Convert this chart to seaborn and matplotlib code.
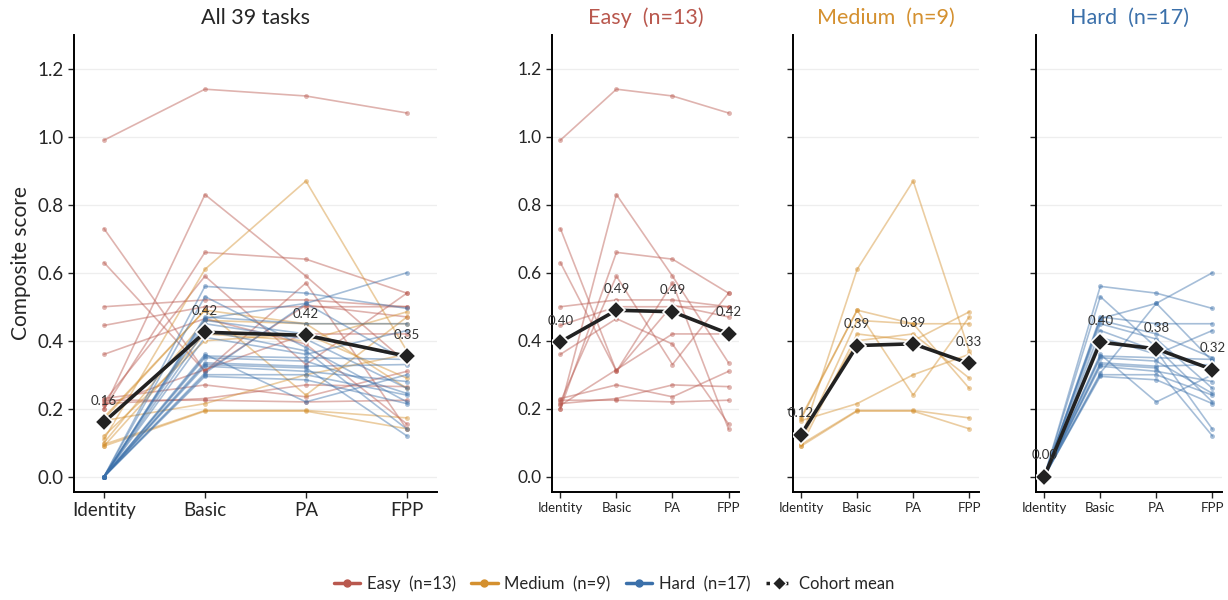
import numpy as np
import pandas as pd
import matplotlib
matplotlib.use("Agg")
import matplotlib.pyplot as plt
from matplotlib.lines import Line2D
import seaborn as sns

conditions = ["Identity", "Basic", "PA", "FPP"]
groups = ["Easy", "Medium", "Hard"]
colors = {"Easy": "#b9584e", "Medium": "#d4902f", "Hard": "#3b70aa"}

# per-task composite scores, one list per condition
easy_identity = [0.99, 0.73, 0.63, 0.50, 0.445, 0.36, 0.20, 0.20, 0.22, 0.23, 0.215, 0.225, 0.21]
easy_basic = [1.14, 0.31, 0.31, 0.52, 0.50, 0.465, 0.83, 0.66, 0.59, 0.27, 0.23, 0.225, 0.315]
easy_pa = [1.12, 0.57, 0.505, 0.52, 0.50, 0.39, 0.59, 0.64, 0.33, 0.235, 0.27, 0.22, 0.42]
easy_fpp = [1.07, 0.14, 0.47, 0.50, 0.50, 0.155, 0.335, 0.54, 0.54, 0.31, 0.265, 0.225, 0.42]

medium_identity = [0.11, 0.175, 0.17, 0.10, 0.09, 0.12, 0.165, 0.095, 0.09]
medium_basic = [0.61, 0.49, 0.49, 0.46, 0.42, 0.40, 0.215, 0.195, 0.193]
medium_pa = [0.87, 0.45, 0.24, 0.45, 0.40, 0.42, 0.30, 0.195, 0.193]
medium_fpp = [0.37, 0.45, 0.47, 0.26, 0.485, 0.29, 0.36, 0.173, 0.141]

hard_identity = [0.0] * 17
hard_basic = [0.56, 0.53, 0.47, 0.465, 0.46, 0.45, 0.43, 0.41, 0.36, 0.355, 0.35, 0.335, 0.33, 0.325, 0.305, 0.30, 0.295]
hard_pa = [0.54, 0.38, 0.45, 0.51, 0.42, 0.405, 0.37, 0.36, 0.22, 0.35, 0.34, 0.325, 0.32, 0.31, 0.51, 0.30, 0.285]
hard_fpp = [0.495, 0.22, 0.45, 0.60, 0.35, 0.26, 0.14, 0.43, 0.30, 0.345, 0.245, 0.33, 0.12, 0.28, 0.34, 0.24, 0.215]

scores = {
    "Easy": [easy_identity, easy_basic, easy_pa, easy_fpp],
    "Medium": [medium_identity, medium_basic, medium_pa, medium_fpp],
    "Hard": [hard_identity, hard_basic, hard_pa, hard_fpp],
}

rows = []
for g in groups:
    for ci, vals in enumerate(scores[g]):
        for ti, v in enumerate(vals):
            rows.append({"task": f"{g}{ti}", "group": g, "x": ci, "score": v})
df = pd.DataFrame(rows)
counts = {g: len(scores[g][0]) for g in groups}

sns.set_theme(style="ticks")
plt.rcParams["font.family"] = ["Lato", "DejaVu Sans"]

fig = plt.figure(figsize=(12.28, 6), dpi=100)
bottom, height = 0.18, 0.762
ax_all = fig.add_axes([0.060, bottom, 0.296, height])
ax_e = fig.add_axes([0.4495, bottom, 0.152, height])
ax_m = fig.add_axes([0.6455, bottom, 0.152, height])
ax_h = fig.add_axes([0.8435, bottom, 0.152, height])


def draw(ax, data, small):
    for g in groups:
        sub = data[data.group == g]
        if sub.empty:
            continue
        sns.lineplot(data=sub, x="x", y="score", units="task", estimator=None,
                     color=colors[g], alpha=0.45, lw=1.2, marker="o",
                     markersize=3.5, markeredgewidth=0, ax=ax, legend=False)
    means = data.groupby("x")["score"].mean().reset_index()
    sns.lineplot(data=means, x="x", y="score", color="#222222", lw=2.6,
                 marker="D", markersize=9, markeredgecolor="white",
                 markeredgewidth=1.2, ax=ax, legend=False, zorder=5)
    for _, r in means.iterrows():
        ax.text(r.x, r.score + 0.045, f"{r.score:.2f}", ha="center", va="bottom",
                fontsize=9.5, color="#333333", zorder=6)
    ax.set_ylim(-0.045, 1.30)
    ax.set_yticks(np.arange(0, 1.21, 0.2))
    ax.set_xticks(range(4))
    ax.set_xticklabels(conditions, fontsize=9.5 if small else 13.5)
    ax.set_xlim(-0.15, 3.18) if small else ax.set_xlim(-0.30, 3.30)
    ax.yaxis.grid(True, color="#eeeeee", lw=0.9)
    ax.set_axisbelow(True)
    ax.set_xlabel("")
    ax.set_ylabel("")
    sns.despine(ax=ax)
    for s in ["left", "bottom"]:
        ax.spines[s].set_linewidth(1.4)
        ax.spines[s].set_color("black")
    ax.tick_params(axis="y", labelsize=12.5 if small else 13.5, length=4, width=1)
    ax.tick_params(axis="x", length=4, width=1)


draw(ax_all, df, small=False)
ax_all.set_title("All 39 tasks", fontsize=15.5, pad=8)
ax_all.set_ylabel("Composite score", fontsize=15)

for ax, g in zip([ax_e, ax_m, ax_h], groups):
    draw(ax, df[df.group == g], small=True)
    ax.set_title(f"{g}  (n={counts[g]})", fontsize=15.5, color=colors[g], pad=8)
ax_m.tick_params(axis="y", labelleft=False)
ax_h.tick_params(axis="y", labelleft=False)

handles = [Line2D([], [], color=colors[g], lw=2.5, marker="o", markersize=5,
                  label=f"{g}  (n={counts[g]})") for g in groups]
handles.append(Line2D([], [], color="#222222", lw=2.5, ls=":", marker="D",
                      markersize=7, markeredgecolor="white", label="Cohort mean"))
fig.legend(handles=handles, loc="lower center", bbox_to_anchor=(0.5, -0.012),
           ncol=4, frameon=False, fontsize=12, handlelength=1.6,
           columnspacing=0.9, handletextpad=0.4)

fig.savefig("out.png", dpi=100)
